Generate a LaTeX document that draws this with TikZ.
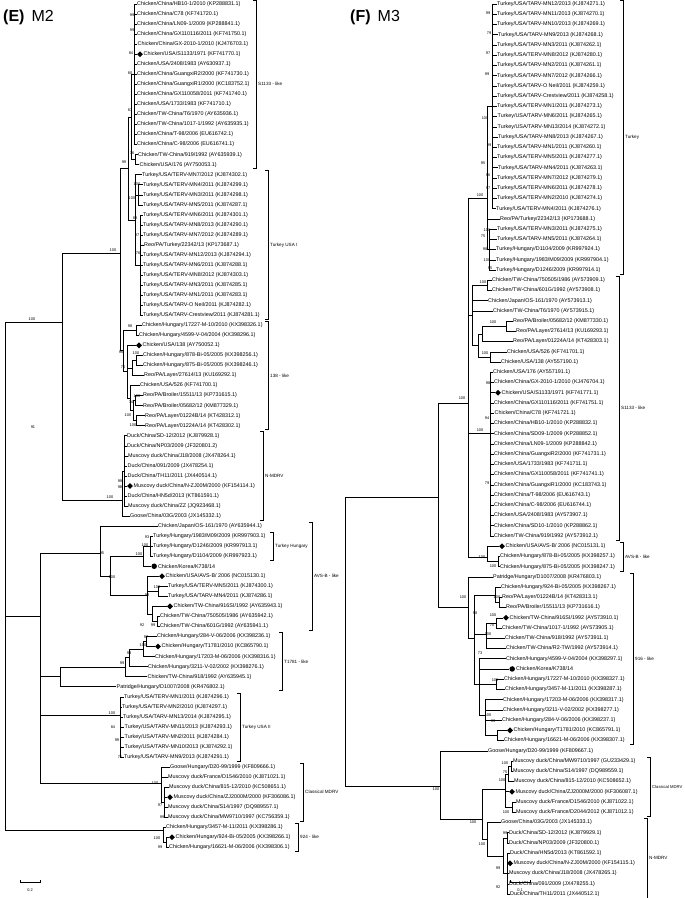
\documentclass[tikz,border=0pt]{standalone}
\usepackage{fontspec}
\setmainfont{Liberation Sans}
\usetikzlibrary{shapes.geometric}

\tikzset{
  br/.style={line width=0.5pt},
  lf/.style={anchor=west,inner sep=0.5pt,font=\fontsize{5.4}{6}\selectfont},
  bsv/.style={inner sep=0pt,font=\fontsize{3.9}{4}\selectfont},
  cl/.style={anchor=west,inner sep=0.5pt,font=\fontsize{4.6}{5}\selectfont},
  ttl/.style={anchor=west,inner sep=0pt,font=\fontsize{16}{18}\selectfont},
  dmd/.style={diamond,fill=black,inner sep=0pt,minimum size=6pt},
  blob/.style={circle,fill=black,inner sep=0pt,minimum size=5.5pt},
}

% vertical line of a node: x, first row, last row
\newcommand{\tvl}[3]{\draw[br] (#1,#2) -- (#1,#3);}
% stem: from x1 to x2 at row y
\newcommand{\tst}[3]{\draw[br] (#1,#3) -- (#2,#3);}
% leaf: name, node x, tip x, row, text
\newcommand{\tlf}[5]{\node[lf] (#1) at (#3,#4) {#5};\draw[br] (#2,#4) -- (#1.west);}
\newcommand{\tlfd}[5]{\node[dmd] (#1m) at (#3+2.6,#4) {};\node[lf] (#1) at (#3+5.6,#4) {#5};\draw[br] (#2,#4) -- (#1m.west);}
\newcommand{\tlfc}[5]{\node[blob] (#1m) at (#3+2.8,#4) {};\node[lf] (#1) at (#3+6,#4) {#5};\draw[br] (#2,#4) -- (#1m.west);}
% bootstrap value
\newcounter{bvn}
\newcommand{\tbv}[3]{\stepcounter{bvn}\node[bsv] (bv\arabic{bvn}) at (#1,#2) {#3};}
% clade bracket: name, x, first row, last row, label
\newcommand{\tcb}[5]{\draw[br] (#2-3,#3-0.4) -- (#2,#3-0.4) -- (#2,#4+0.4) -- (#2-3,#4+0.4);
  \node[cl] (#1) at (#2+1.5,{(#3+#4)/2}) {#5};}

\begin{document}
\begin{tikzpicture}[x=1pt,y=-1pt]
\useasboundingbox (0,0) rectangle (685,898);
\node[ttl] (tE) at (3,17) {\textbf{(E)}\, M2};
\node[ttl] (tF) at (350,17) {\textbf{(F)}\, M3};

% ---------------- panel E (M2)
\begin{scope}[y=-10.04pt,yshift=6.04pt]
% S1133-like
\tvl{134}{1}{15}
\tlf{e1}{134}{136.5}{1}{Chicken/China/HB10-1/2010 (KP288831.1)}
\tlf{e2}{134}{136.5}{2}{Chicken/China/C78 (KF741720.1)}
\tlf{e3}{134}{136.5}{3}{Chicken/China/LN09-1/2009 (KP288841.1)}
\tlf{e4}{134}{136.5}{4}{Chicken/China/GX110116/2011 (KF741750.1)}
\tlf{e5}{134}{137}{5}{Chicken/China/GX-2010-1/2010 (KJ476703.1)}
\tlfd{e6}{134}{137.4}{6}{Chicken/USA/S1133/1971 (KF741770.1)}
\tlf{e7}{134}{136.5}{7}{Chicken/USA/2408/1983 (AY630937.1)}
\tlf{e8}{134}{136.5}{8}{Chicken/China/GuangxiR2/2000 (KF741730.1)}
\tlf{e9}{134}{136.5}{9}{Chicken/China/GuangxiR1/2000 (KC183752.1)}
\tlf{e10}{134}{136.5}{10}{Chicken/China/GX110058/2011 (KF741740.1)}
\tlf{e11}{134}{136.5}{11}{Chicken/USA/1733/1983 (KF741710.1)}
\tlf{e12}{134}{136.5}{12}{Chicken/TW-China/T6/1970 (AY635936.1)}
\tlf{e13}{134}{136.5}{13}{Chicken/TW-China/1017-1/1992 (AY635935.1)}
\tlf{e14}{134}{136.5}{14}{Chicken/China/T-98/2006 (EU616742.1)}
\tlf{e15}{134}{136.5}{15}{Chicken/China/C-98/2006 (EU616741.1)}
\tvl{135}{16}{17}
\tlf{e16}{135}{137.5}{16}{Chicken/TW-China/919/1992 (AY635939.1)}
\tlf{e17}{135}{139}{17}{Chicken/USA/176 (AY750053.1)}
\tvl{131}{8}{16.5}\tst{131}{134}{8}\tst{131}{135}{16.5}
% Turkey USA I
\tlf{e18}{135}{141.5}{18}{Turkey/USA/TERV-MN7/2012 (KJ874302.1)}
\tvl{138}{19}{21}
\tlf{e19}{138}{142.5}{19}{Turkey/USA/TERV-MN4/2011 (KJ874299.1)}
\tlf{e20}{138}{142.5}{20}{Turkey/USA/TERV-MN3/2011 (KJ874298.1)}
\tlf{e21}{138}{142.5}{21}{Turkey/USA/TARV-MN5/2011 (KJ874287.1)}
\tvl{140}{22}{32}
\tlf{e22}{140}{142.5}{22}{Turkey/USA/TERV-MN6/2011 (KJ874301.1)}
\tlf{e23}{140}{142.5}{23}{Turkey/USA/TARV-MN8/2013 (KJ874290.1)}
\tlf{e24}{140}{142.5}{24}{Turkey/USA/TARV-MN7/2012 (KJ874289.1)}
\tlf{e25}{140}{143.5}{25}{Reo/PA/Turkey/22342/13 (KP173687.1)}
\tlf{e26}{140}{142.5}{26}{Turkey/USA/TARV-MN12/2013 (KJ874294.1)}
\tlf{e27}{140}{142.5}{27}{Turkey/USA/TARV-MN6/2011 (KJ874288.1)}
\tlf{e28}{140}{142.5}{28}{Turkey/USA/TERV-MN8/2012 (KJ874303.1)}
\tlf{e29}{140}{142.5}{29}{Turkey/USA/TARV-MN3/2011 (KJ874285.1)}
\tlf{e30}{140}{142.5}{30}{Turkey/USA/TARV-MN1/2011 (KJ874283.1)}
\tlf{e31}{140}{142.5}{31}{Turkey/USA/TARV-O Neil/2011 (KJ874282.1)}
\tlf{e32}{140}{142.5}{32}{Turkey/USA/TARV-Crestview/2011 (KJ874281.1)}
\tvl{135}{18}{27}\tst{135}{138}{20}\tst{135}{140}{27}
\tvl{128}{12.25}{22.5}\tst{128}{131}{12.25}\tst{128}{135}{22.5}
% 138-like
\tvl{136}{33}{34}
\tlf{e33}{136}{141.5}{33}{Chicken/Hungary/17227-M-10/2010 (KX398326.1)}
\tlf{e34}{136}{138.5}{34}{Chicken/Hungary/4599-V-04/2004 (KX398296.1)}
\tlfd{e35}{127}{136.4}{35}{Chicken/USA/138 (AY750052.1)}
\tvl{136}{36}{37}
\tlf{e36}{136}{142.5}{36}{Chicken/Hungary/878-Bi-05/2005 (KX398256.1)}
\tlf{e37}{136}{142.5}{37}{Chicken/Hungary/875-Bi-05/2005 (KX398246.1)}
\tlf{e38}{132}{143.5}{38}{Reo/PA/Layer/27614/13 (KU169292.1)}
\tvl{132}{36.5}{38}\tst{132}{136}{36.5}
\tlf{e39}{130}{139.5}{39}{Chicken/USA/526 (KF741700.1)}
\tvl{135}{40}{41}
\tlf{e40}{135}{142.5}{40}{Reo/PA/Broiler/15511/13 (KP731615.1)}
\tlf{e41}{135}{142.5}{41}{Reo/PA/Broiler/05682/12 (KM877329.1)}
\tvl{136}{42}{43}
\tlf{e42}{136}{144.5}{42}{Reo/PA/Layer/01224B/14 (KT428312.1)}
\tlf{e43}{136}{144.5}{43}{Reo/PA/Layer/01224A/14 (KT428302.1)}
\tvl{133}{40.5}{42.5}\tst{133}{135}{40.5}\tst{133}{136}{42.5}
\tvl{130}{39}{41.5}\tst{130}{133}{41.5}
\tvl{127}{35}{40.25}\tst{127}{132}{37.25}\tst{127}{130}{40.25}
\tvl{123}{33.5}{37.6}\tst{123}{136}{33.5}\tst{123}{127}{37.6}
\tvl{120}{17.4}{35.5}\tst{120}{128}{17.4}\tst{120}{123}{35.5}
% N-MDRV
\tvl{124}{44}{51}
\tlf{e44}{124}{126.5}{44}{Duck/China/SD-12/2012 (KJ879928.1)}
\tlf{e45}{124}{126.5}{45}{Duck/China/NP03/2009 (JF320801.2)}
\tlf{e46}{124}{127.5}{46}{Muscovy duck/China/J18/2008 (JX478264.1)}
\tlf{e47}{124}{127}{47}{Duck/China/091/2009 (JX478254.1)}
\tlf{e48}{124}{127}{48}{Duck/China/TH11/2011 (JX440514.1)}
\tlfd{e49}{124}{127.4}{49}{Muscovy duck/China/N-ZJ00M/2000 (KF154114.1)}
\tlf{e50}{124}{127}{50}{Duck/China/HN5d/2013 (KT861591.1)}
\tlf{e51}{124}{127.5}{51}{Muscovy duck/China/ZZ (JQ923468.1)}
\tlf{e52}{122}{129.5}{52}{Goose/China/03G/2003 (JX145332.1)}
\tvl{122}{47.5}{52}\tst{122}{124}{47.5}
\tvl{62}{25.8}{50.4}\tst{62}{120}{25.8}\tst{62}{122}{50.4}
% AVS-B-like
\tlf{e53}{100}{157.5}{53}{Chicken/Japan/OS-161/1970 (AY635944.1)}
\tvl{150}{54}{56}
\tlf{e54}{150}{152.5}{54}{Turkey/Hungary/1983/M09/2009 (KR997903.1)}
\tlf{e55}{150}{152.5}{55}{Turkey/Hungary/D1246/2009 (KR997913.1)}
\tlf{e56}{150}{152.5}{56}{Turkey/Hungary/D1104/2009 (KR997923.1)}
\tlfc{e57}{143}{151.4}{57}{Chicken/Korea/K738/14}
\tvl{143}{55}{57}\tst{143}{150}{55}
\tlfd{e58}{147}{159.4}{58}{Chicken/USA/AVS-B/ 2006 (NC015130.1)}
\tvl{158}{59}{60}
\tlf{e59}{158}{167.5}{59}{Turkey/USA/TERV-MN5/2011 (KJ874300.1)}
\tlf{e60}{158}{167.5}{60}{Turkey/USA/TARV-MN4/2011 (KJ874286.1)}
\tlfd{e61}{152}{167.4}{61}{Chicken/TW-China/916SI/1992 (AY635943.1)}
\tvl{157}{62}{63}
\tlf{e62}{157}{159.5}{62}{Chicken/TW-China/750505/1986 (AY635942.1)}
\tlf{e63}{157}{159.5}{63}{Chicken/TW-China/601G/1992 (AY635941.1)}
\tvl{152}{61}{62.5}\tst{152}{157}{62.5}
\tvl{147}{58}{61.75}\tst{147}{158}{59.5}\tst{147}{152}{61.75}
\tvl{110}{56}{59.9}\tst{110}{143}{56}\tst{110}{147}{59.9}
\tvl{100}{53}{58}\tst{100}{110}{58}
% T1781-like
\tvl{146}{64}{65}
\tlf{e64}{146}{156.5}{64}{Chicken/Hungary/284-V-06/2006 (KX398236.1)}
\tlfd{e65}{146}{155.4}{65}{Chicken/Hungary/T1781/2010 (KC865790.1)}
\tlf{e66}{143}{154.5}{66}{Chicken/Hungary/17203-M-06/2006 (KX398316.1)}
\tvl{143}{64.5}{66}\tst{143}{146}{64.5}
\tlf{e67}{129}{147.5}{67}{Chicken/Hungary/3211-V-02/2002 (KX398276.1)}
\tvl{129}{65.25}{67}\tst{129}{143}{65.25}
\tlf{e68}{125}{147}{68}{Chicken/TW-China/918/1992 (AY635945.1)}
\tvl{125}{66.1}{68}\tst{125}{129}{66.1}
\tlf{e69}{60}{116}{69}{Patridge/Hungary/D1007/2008 (KR476802.1)}
\tvl{60}{67.1}{69}\tst{60}{125}{67.1}
% Turkey USA II
\tvl{120}{70}{76}
\tlf{e70}{120}{123.5}{70}{Turkey/USA/TERV-MN1/2011 (KJ874296.1)}
\tlf{e71}{120}{121.5}{71}{Turkey/USA/TERV-MN2/2010 (KJ874297.1)}
\tlf{e72}{120}{122.5}{72}{Turkey/USA/TARV-MN13/2014 (KJ874295.1)}
\tlf{e73}{120}{124}{73}{Turkey/USA/TARV-MN11/2013 (KJ874293.1)}
\tlf{e74}{120}{124}{74}{Turkey/USA/TARV-MN2/2011 (KJ874284.1)}
\tlf{e75}{120}{124}{75}{Turkey/USA/TARV-MN10/2013 (KJ874292.1)}
\tlf{e76}{120}{123.5}{76}{Turkey/USA/TARV-MN9/2013 (KJ874291.1)}
% Classical MDRV
\tvl{164}{79}{82}
\tlf{e77}{161}{169.5}{77}{Goose/Hungary/D20-99/1999 (KF809666.1)}
\tlf{e78}{161}{167.5}{78}{Muscovy duck/France/D1546/2010 (KJ871021.1)}
\tlf{e79}{164}{168.5}{79}{Muscovy duck/China/815-12/2010 (KC508651.1)}
\tlfd{e80}{164}{167.4}{80}{Muscovy duck/China/ZJ2000M/2000 (KF306086.1)}
\tlf{e81}{164}{167.5}{81}{Muscovy duck/China/S14/1997 (DQ989557.1)}
\tlf{e82}{164}{167.5}{82}{Muscovy duck/China/MW9710/1997 (KC756359.1)}
\tvl{161}{77}{80.5}\tst{161}{164}{80.5}
% 924-like
\tvl{166}{84}{85}
\tlf{e83}{163}{165.5}{83}{Chicken/Hungary/3457-M-11/2011 (KX398286.1)}
\tlfd{e84}{166}{169.4}{84}{Chicken/Hungary/924-Bi-05/2005 (KX398266.1)}
\tlf{e85}{166}{168.5}{85}{Chicken/Hungary/16621-M-06/2006 (KX398306.1)}
\tvl{163}{83}{84.5}\tst{163}{166}{84.5}
% backbone
\tvl{40}{55.7}{78.6}\tst{40}{100}{55.7}\tst{40}{60}{68}\tst{40}{120}{71.8}\tst{40}{161}{78.6}
\tvl{5}{32.7}{83.3}\tst{5}{62}{32.7}\tst{5}{40}{62}\tst{5}{163}{83.3}
% clades
\tcb{cS}{256}{1}{17}{S1133 - like}
\tcb{cTa}{268}{18}{32}{Turkey USA I}
\tcb{cA}{268}{33}{43}{138 - like}
\tcb{cN}{263}{44}{52}{N-MDRV}
\tcb{cTH}{273}{54}{56}{Turkey Hungary}
\tcb{cB}{312}{53}{63}{AVS-B - like}
\tcb{cT}{282}{64}{69}{T1781 - like}
\tcb{cTb}{240}{70}{76}{Turkey USA II}
\tcb{cC}{303}{77}{82}{Classical MDRV}
\tcb{c9}{298}{83}{85}{924 - like}
\end{scope}

% ---------------- panel F (M3)
\begin{scope}[y=-10.23pt,yshift=6.23pt]
% Turkey
\tvl{492}{1}{21}
\tlf{f1}{492}{496.5}{1}{Turkey/USA/TARV-MN12/2013 (KJ874271.1)}
\tlf{f2}{492}{496.5}{2}{Turkey/USA/TARV-MN11/2013 (KJ874270.1)}
\tlf{f3}{492}{496.5}{3}{Turkey/USA/TARV-MN10/2013 (KJ874269.1)}
\tlf{f4}{492}{497.5}{4}{Turkey/USA/TARV-MN9/2013 (KJ874268.1)}
\tlf{f5}{492}{496.5}{5}{Turkey/USA/TARV-MN3/2011 (KJ874262.1)}
\tlf{f6}{492}{496.5}{6}{Turkey/USA/TERV-MN8/2012 (KJ874280.1)}
\tlf{f7}{492}{496.5}{7}{Turkey/USA/TARV-MN2/2011 (KJ874261.1)}
\tlf{f8}{492}{496.5}{8}{Turkey/USA/TARV-MN7/2012 (KJ874266.1)}
\tlf{f9}{492}{496.5}{9}{Turkey/USA/TARV-O Neil/2011 (KJ874259.1)}
\tlf{f10}{492}{496.5}{10}{Turkey/USA/TARV-Crestview/2011 (KJ874258.1)}
\tlf{f11}{492}{496.5}{11}{Turkey/USA/TERV-MN1/2011 (KJ874273.1)}
\tlf{f12}{492}{497}{12}{Turkey/USA/TARV-MN6/2011 (KJ874265.1)}
\tlf{f13}{492}{497}{13}{Turkey/USA/TARV-MN13/2014 (KJ874272.1)}
\tlf{f14}{492}{497.5}{14}{Turkey/USA/TARV-MN8/2013 (KJ874267.1)}
\tlf{f15}{492}{496.5}{15}{Turkey/USA/TARV-MN1/2011 (KJ874260.1)}
\tlf{f16}{492}{496.5}{16}{Turkey/USA/TERV-MN5/2011 (KJ874277.1)}
\tlf{f17}{492}{497.5}{17}{Turkey/USA/TARV-MN4/2011 (KJ874263.1)}
\tlf{f18}{492}{496.5}{18}{Turkey/USA/TERV-MN7/2012 (KJ874279.1)}
\tlf{f19}{492}{496.5}{19}{Turkey/USA/TERV-MN6/2011 (KJ874278.1)}
\tlf{f20}{492}{496.5}{20}{Turkey/USA/TERV-MN2/2010 (KJ874274.1)}
\tlf{f21}{492}{495.5}{21}{Turkey/USA/TERV-MN4/2011 (KJ874276.1)}
\tlf{f22}{487}{499.5}{22}{Reo/PA/Turkey/22342/13 (KP173688.1)}
\tvl{489}{23}{27}
\tlf{f23}{489}{496.5}{23}{Turkey/USA/TERV-MN3/2011 (KJ874275.1)}
\tlf{f24}{489}{496.5}{24}{Turkey/USA/TARV-MN5/2011 (KJ874264.1)}
\tlf{f25}{489}{495.5}{25}{Turkey/Hungary/D1104/2009 (KR997924.1)}
\tlf{f26}{489}{495.5}{26}{Turkey/Hungary/1983/M09/2009 (KR997904.1)}
\tlf{f27}{489}{495.5}{27}{Turkey/Hungary/D1246/2009 (KR997914.1)}
\tvl{487}{11}{25}\tst{487}{492}{11}\tst{487}{489}{25}
% S1133-like
\tvl{487}{28}{29}
\tlf{f28}{487}{491.5}{28}{Chicken/TW-China/750505/1986 (AY573909.1)}
\tlf{f29}{487}{491.5}{29}{Chicken/TW-China/601G/1992 (AY573908.1)}
\tlf{f30}{472}{487.5}{30}{Chicken/Japan/OS-161/1970 (AY573913.1)}
\tlf{f31}{472}{492.5}{31}{Chicken/TW-China/T6/1970 (AY573915.1)}
\tvl{506}{32}{33}
\tlf{f32}{506}{512.5}{32}{Reo/PA/Broiler/05682/12 (KM877330.1)}
\tlf{f33}{506}{515.5}{33}{Reo/PA/Layer/27614/13 (KU169293.1)}
\tlf{f34}{482}{512.5}{34}{Reo/PA/Layer/01224A/14 (KT428303.1)}
\tvl{482}{32.5}{34}\tst{482}{506}{32.5}
\tvl{490}{35}{36}
\tlf{f35}{490}{506.5}{35}{Chicken/USA/526 (KF741701.1)}
\tlf{f36}{490}{500.5}{36}{Chicken/USA/138 (AY557190.1)}
\tvl{478}{33.25}{35.5}\tst{478}{482}{33.25}\tst{478}{490}{35.5}
\tvl{472}{28.5}{34.4}\tst{472}{487}{28.5}\tst{472}{478}{34.4}
\tvl{490}{37}{53}
\tlf{f37}{490}{492.5}{37}{Chicken/USA/176 (AY557191.1)}
\tlf{f38}{490}{493.5}{38}{Chicken/China/GX-2010-1/2010 (KJ476704.1)}
\tlfd{f39}{490}{495.4}{39}{Chicken/USA/S1133/1971 (KF741771.1)}
\tlf{f40}{490}{493.5}{40}{Chicken/China/GX110116/2011 (KF741751.1)}
\tlf{f41}{490}{494}{41}{Chicken/China/C78 (KF741721.1)}
\tlf{f42}{490}{493.5}{42}{Chicken/China/HB10-1/2010 (KP288832.1)}
\tlf{f43}{490}{493.5}{43}{Chicken/China/SD09-1/2009 (KP288852.1)}
\tlf{f44}{490}{493.5}{44}{Chicken/China/LN09-1/2009 (KP288842.1)}
\tlf{f45}{490}{493.5}{45}{Chicken/China/GuangxiR2/2000 (KF741731.1)}
\tlf{f46}{490}{493.5}{46}{Chicken/USA/1733/1983 (KF741711.1)}
\tlf{f47}{490}{493.5}{47}{Chicken/China/GX110058/2011 (KF741741.1)}
\tlf{f48}{490}{493.5}{48}{Chicken/China/GuangxiR1/2000 (KC183743.1)}
\tlf{f49}{490}{493.5}{49}{Chicken/China/T-98/2006 (EU616743.1)}
\tlf{f50}{490}{493.5}{50}{Chicken/China/C-98/2006 (EU616744.1)}
\tlf{f51}{490}{493.5}{51}{Chicken/USA/2408/1983 (AY573907.1)}
\tlf{f52}{490}{493.5}{52}{Chicken/China/SD10-1/2010 (KP288862.1)}
\tlf{f53}{490}{493.5}{53}{Chicken/TW-China/919/1992 (AY573912.1)}
% AVS-B-like
\tlfd{f54}{487}{499.4}{54}{Chicken/USA/AVS-B/ 2006 (NC015131.1)}
\tvl{498}{55}{56}
\tlf{f55}{498}{499.5}{55}{Chicken/Hungary/878-Bi-05/2005 (KX398257.1)}
\tlf{f56}{498}{499.5}{56}{Chicken/Hungary/875-Bi-05/2005 (KX398247.1)}
\tvl{487}{54}{55.5}\tst{487}{498}{55.5}
\tvl{468}{20}{55.1}\tst{468}{487}{20}\tst{468}{472}{31.4}\tst{468}{490}{43}\tst{468}{487}{55.1}
% 916-like
\tlf{f57}{468}{492.5}{57}{Patridge/Hungary/D1007/2008 (KR476803.1)}
\tlf{f58}{495}{500.5}{58}{Chicken/Hungary/924-Bi-05/2005 (KX398267.1)}
\tvl{499}{59}{60}
\tlf{f59}{499}{501.5}{59}{Reo/PA/Layer/01224B/14 (KT428313.1)}
\tlf{f60}{499}{505.5}{60}{Reo/PA/Broiler/15511/13 (KP731616.1)}
\tvl{495}{58}{59.5}\tst{495}{499}{59.5}
\tvl{496}{61}{62}
\tlfd{f61}{496}{503.4}{61}{Chicken/TW-China/916SI/1992 (AY573910.1)}
\tlf{f62}{496}{501.5}{62}{Chicken/TW-China/1017-1/1992 (AY573905.1)}
\tlf{f63}{486}{504.5}{63}{Chicken/TW-China/918/1992 (AY573911.1)}
\tlf{f64}{486}{505.5}{64}{Chicken/TW-China/R2-TW/1992 (AY573914.1)}
\tvl{486}{61.5}{64}\tst{486}{496}{61.5}
\tlf{f65}{479}{505.5}{65}{Chicken/Hungary/4599-V-04/2004 (KX398297.1)}
\tlfc{f66}{479}{509.4}{66}{Chicken/Korea/K738/14}
\tvl{496}{67}{68}
\tlf{f67}{496}{503.5}{67}{Chicken/Hungary/17227-M-10/2010 (KX398327.1)}
\tlf{f68}{496}{504.5}{68}{Chicken/Hungary/3457-M-11/2011 (KX398287.1)}
\tlf{f69}{485}{502.5}{69}{Chicken/Hungary/17203-M-06/2006 (KX398317.1)}
\tlf{f70}{485}{502.5}{70}{Chicken/Hungary/3211-V-02/2002 (KX398277.1)}
\tlf{f71}{485}{501.5}{71}{Chicken/Hungary/284-V-06/2006 (KX398237.1)}
\tvl{497}{72}{73}
\tlfd{f72}{497}{507.4}{72}{Chicken/Hungary/T1781/2010 (KC865791.1)}
\tlf{f73}{497}{503.5}{73}{Chicken/Hungary/16621-M-06/2006 (KX398307.1)}
\tvl{485}{69}{72.5}\tst{485}{497}{72.5}
\tvl{479}{65}{70.5}\tst{479}{496}{67.5}\tst{479}{485}{70.5}
\tvl{474}{58.75}{67.5}\tst{474}{495}{58.75}\tst{474}{486}{62.6}\tst{474}{479}{67.5}
\tvl{468}{57}{63}\tst{468}{474}{63}
\tvl{438}{40}{60}\tst{438}{468}{40}\tst{438}{468}{60}
% Classical MDRV and N-MDRV
\tlf{f74}{440}{487.5}{74}{Goose/Hungary/D20-99/1999 (KF809667.1)}
\tvl{511}{75}{76}
\tlf{f75}{511}{512.5}{75}{Muscovy duck/China/MW9710/1997 (GU233429.1)}
\tlf{f76}{511}{512.5}{76}{Muscovy duck/China/S14/1997 (DQ989559.1)}
\tlf{f77}{508}{513.5}{77}{Muscovy duck/China/815-12/2010 (KC508652.1)}
\tvl{508}{75.5}{77}\tst{508}{511}{75.5}
\tlfd{f78}{505}{509.4}{78}{Muscovy duck/China/ZJ2000M/2000 (KF306087.1)}
\tvl{512}{79}{80}
\tlf{f79}{512}{515.5}{79}{Muscovy duck/France/D1546/2010 (KJ871022.1)}
\tlf{f80}{512}{515.5}{80}{Muscovy duck/France/D2044/2012 (KJ871012.1)}
\tvl{505}{76.25}{79.5}\tst{505}{508}{76.25}\tst{505}{512}{79.5}
\tlf{f81}{487}{500.5}{81}{Goose/China/03G/2003 (JX145333.1)}
\tvl{507}{82}{83}
\tlf{f82}{507}{508.5}{82}{Duck/China/SD-12/2012 (KJ879929.1)}
\tlf{f83}{507}{508.5}{83}{Duck/China/NP03/2009 (JF320800.1)}
\tvl{507}{84}{88}
\tlf{f84}{507}{509.5}{84}{Duck/China/HN5d/2013 (KT861592.1)}
\tlfd{f85}{507}{507.4}{85}{Muscovy duck/China/N-ZJ00M/2000 (KF154115.1)}
\tlf{f86}{507}{508.5}{86}{Muscovy duck/China/J18/2008 (JX478265.1)}
\tlf{f87}{507}{508.5}{87}{Duck/China/091/2009 (JX478255.1)}
\tlf{f88}{507}{509.5}{88}{Duck/China/TH11/2011 (JX440512.1)}
\tvl{503}{82.5}{86}\tst{503}{507}{82.5}\tst{503}{507}{86}
\tvl{487}{81}{84.3}\tst{487}{503}{84.3}
\tvl{482}{77.8}{82.6}\tst{482}{505}{77.8}\tst{482}{487}{82.6}
\tvl{440}{74}{80.7}\tst{440}{482}{80.7}
\tvl{345}{49.2}{77.5}\tst{345}{438}{49.2}\tst{345}{440}{77.5}
% clades
\tcb{gT}{623}{1}{27}{Turkey}
\tcb{gS}{619}{28}{53}{S1133 - like}
\tcb{gB}{623}{54}{56}{AVS-B - like}
\tcb{g9}{633}{57}{73}{916 - like}
\tcb{gC}{650}{75}{80}{\fontsize{4.2}{5}\selectfont Classical MDRV}
\tcb{gN}{647}{81}{88}{N-MDRV}
\end{scope}

% bootstrap values, panel E
\tbv{132}{15}{99}\tbv{132}{30}{99}\tbv{131}{53}{84}\tbv{130}{73}{80}
\tbv{130}{110}{83}\tbv{132}{153}{76}\tbv{124}{162}{99}\tbv{113}{250}{100}
\tbv{137}{184}{100}\tbv{132}{198}{100}\tbv{135}{218}{89}\tbv{137}{235}{97}
\tbv{138}{253}{76}\tbv{130}{326}{98}\tbv{121}{352}{96}\tbv{136}{353}{100}
\tbv{123}{367}{76}\tbv{137}{396}{100}\tbv{131}{402}{74}\tbv{128}{415}{100}
\tbv{133}{425}{100}\tbv{120}{481}{99}\tbv{120}{487}{98}\tbv{110}{497}{100}
\tbv{32}{319}{100}\tbv{33}{427}{91}
\tbv{102}{553}{95}\tbv{147}{537}{93}\tbv{145}{545}{100}\tbv{139}{554}{100}
\tbv{112}{577}{100}\tbv{157}{587}{100}\tbv{147}{595}{98}\tbv{142}{625}{92}
\tbv{153}{625}{99}\tbv{146}{637}{97}\tbv{143}{645}{100}\tbv{129}{653}{93}
\tbv{122}{663}{99}\tbv{112}{713}{100}\tbv{113}{727}{84}\tbv{117}{740}{99}
\tbv{120}{757}{76}\tbv{155}{783}{100}\tbv{160}{805}{97}\tbv{162}{817}{99}
\tbv{157}{838}{100}\tbv{160}{847}{99}
% bootstrap values, panel F
\tbv{488}{13}{99}\tbv{489}{33}{79}\tbv{488}{53}{97}\tbv{487}{74}{99}
\tbv{485}{118}{100}\tbv{489}{145}{99}\tbv{483}{163}{95}\tbv{488}{175}{96}
\tbv{488}{188}{97}\tbv{480}{195}{100}\tbv{487}{230}{100}\tbv{483}{236}{75}
\tbv{485}{249}{98}\tbv{487}{260}{100}\tbv{490}{268}{95}\tbv{483}{282}{100}
\tbv{493}{322}{100}\tbv{485}{353}{100}\tbv{488}{383}{98}\tbv{462}{398}{100}
\tbv{487}{418}{94}\tbv{480}{430}{100}\tbv{487}{483}{79}\tbv{482}{557}{100}
\tbv{493}{566}{100}\tbv{463}{597}{100}\tbv{497}{597}{100}\tbv{475}{613}{98}
\tbv{493}{615}{100}\tbv{492}{625}{70}\tbv{488}{634}{100}\tbv{480}{653}{73}
\tbv{495}{680}{100}\tbv{488}{715}{100}\tbv{493}{721}{99}
\tbv{505}{763}{100}\tbv{505}{772}{75}\tbv{502}{780}{100}\tbv{506}{812}{100}
\tbv{473}{822}{100}\tbv{436}{789}{100}\tbv{505}{833}{99}\tbv{482}{844}{100}
\tbv{498}{868}{99}\tbv{498}{887}{92}

% scale bars
\draw[br] (20,880) -- (20,882) -- (40,882) -- (40,880);
\node[bsv] (sE) at (30,890) {0.2};
\draw[br] (510,880) -- (510,882) -- (530,882) -- (530,880);
\node[bsv] (sF) at (520,890) {0.1};
\end{tikzpicture}
\end{document}
